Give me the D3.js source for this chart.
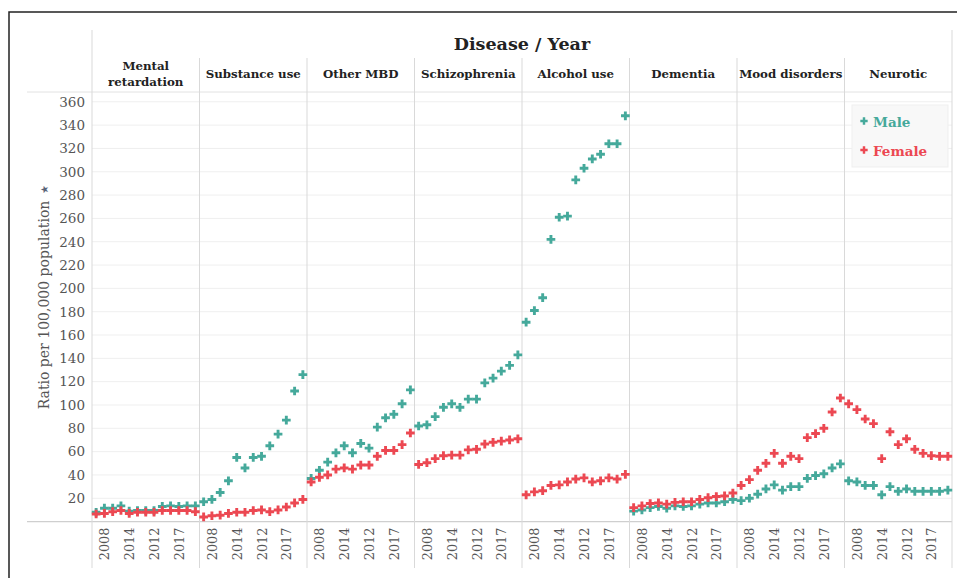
<!DOCTYPE html>
<html>
<head>
<meta charset="utf-8">
<script src="https://cdn.jsdelivr.net/npm/d3@7"></script>
<style>
  html, body { margin: 0; padding: 0; background: #fff; }
  svg { display: block; }
  text { font-family: "DejaVu Serif", "Liberation Serif", serif; }
</style>
</head>
<body>
<svg id="chart" width="957" height="578"></svg>
<script>
// ---------------- DATA ----------------
const diseases = ["Mental\nretardation", "Substance use", "Other MBD", "Schizophrenia",
                  "Alcohol use", "Dementia", "Mood disorders", "Neurotic"];
const yearSlots = [0, 1, 2, 3, 4, 5, 6, 7, 8, 9, 10, 11, 12];
const xTickSlots = [1, 4, 7, 10];
const xTickLabels = ["2008", "2014", "2012", "2017"];
const yTicks = [20, 40, 60, 80, 100, 120, 140, 160, 180, 200, 220, 240, 260, 280, 300, 320, 340, 360];
const seriesNames = ["Male", "Female"];

const maleMental        = [8, 11.5, 11.5, 13.5, 9, 9.5, 9.5, 9.5, 13, 13.5, 13, 13.5, 13.5];
const maleSubstance     = [17, 19, 25, 35, 55, 46, 55, 56, 65, 75, 87, 112, 126];
const maleOtherMBD      = [37, 44, 51, 59, 65, 59, 67, 63, 81, 89, 92, 101, 113];
const maleSchizophrenia = [82, 83, 90, 98, 101, 98, 105, 105, 119, 123, 129, 134, 143];
const maleAlcohol       = [171, 181, 192, 242, 261, 262, 293, 303, 311, 315, 324, 324, 348];
const maleDementia      = [9, 10, 12, 13, 11.5, 13.5, 13, 13.5, 15, 16, 16, 17, 19];
const maleMood          = [18, 20, 23.5, 28, 31.5, 27, 30, 30, 37, 39.5, 41, 46, 49.5];
const maleNeurotic      = [35, 34, 31, 31, 23, 30, 26, 28, 26, 26, 26, 26, 27];

const femaleMental        = [6.5, 7, 8.5, 9.5, 7, 8, 8, 8, 9.5, 9.5, 9.5, 9.5, 8.5];
const femaleSubstance     = [4, 5, 5.5, 7, 8, 8, 9.5, 10, 8.5, 10, 12.5, 16, 19];
const femaleOtherMBD      = [34, 38, 40, 45, 46, 45, 48.5, 48.5, 56, 61, 61, 66, 76];
const femaleSchizophrenia = [49, 50.5, 54, 56.5, 57, 57, 61.5, 62, 66.5, 68, 69, 70, 71];
const femaleAlcohol       = [23, 25.5, 26.5, 31, 31.5, 34, 36.5, 37.5, 34, 35, 37.5, 36.5, 40.5];
const femaleDementia      = [12, 13.5, 15.5, 16, 15, 16.5, 17, 17, 19, 20.5, 21.5, 22, 24.5];
const femaleMood          = [31, 36, 44, 50, 58.5, 50, 56, 54, 72, 75.5, 80, 94, 106];
const femaleNeurotic      = [101, 96, 88, 84, 54, 77, 66, 71, 62, 58.5, 56.5, 56, 56];

const maleSeries = [maleMental, maleSubstance, maleOtherMBD, maleSchizophrenia,
                    maleAlcohol, maleDementia, maleMood, maleNeurotic];
const femaleSeries = [femaleMental, femaleSubstance, femaleOtherMBD, femaleSchizophrenia,
                      femaleAlcohol, femaleDementia, femaleMood, femaleNeurotic];

// ---------------- LAYOUT ----------------
const colors = { Male: "#45a99b", Female: "#ec4852" };
const svg = d3.select("#chart");
const plotLeft = 92, plotRight = 952, plotTop = 92, plotBottom = 521.6;

const panelScale = d3.scaleBand().domain(d3.range(diseases.length)).range([plotLeft, plotRight]).padding(0);
const x = d3.scalePoint().domain(yearSlots).range([0, panelScale.bandwidth()]).padding(0.5);
const y = d3.scaleLinear().domain([0, 368.4]).range([plotBottom, plotTop]);

// outer frame
svg.append("rect").attr("x", 9).attr("y", 12).attr("width", 970).attr("height", 600)
  .attr("fill", "none").attr("stroke", "#222").attr("stroke-width", 1.5);

// gridlines
svg.append("g").selectAll("line").data(yTicks).join("line")
  .attr("x1", plotLeft).attr("x2", plotRight)
  .attr("y1", d => y(d)).attr("y2", d => y(d))
  .attr("stroke", "#efefef").attr("stroke-width", 1);

// header bottom line
svg.append("line").attr("x1", 27).attr("x2", plotRight).attr("y1", plotTop).attr("y2", plotTop)
  .attr("stroke", "#e2e2e2").attr("stroke-width", 1);

// baseline
svg.append("line").attr("x1", 27).attr("x2", plotRight).attr("y1", y(0)).attr("y2", y(0))
  .attr("stroke", "#cfcfcf").attr("stroke-width", 1.2);

// panel separators
const seps = d3.range(diseases.length + 1);
svg.append("g").selectAll("line").data(seps).join("line")
  .attr("x1", i => i < diseases.length ? panelScale(i) : plotRight)
  .attr("x2", i => i < diseases.length ? panelScale(i) : plotRight)
  .attr("y1", i => (i === 0 || i === diseases.length) ? 30 : 58)
  .attr("y2", 568)
  .attr("stroke", "#d9d9d9").attr("stroke-width", 1);

// title
svg.append("text").attr("x", (plotLeft + plotRight) / 2).attr("y", 50)
  .attr("text-anchor", "middle").attr("font-size", 17.5).attr("font-weight", "bold")
  .attr("fill", "#222").text("Disease / Year");

// headers
diseases.forEach((name, i) => {
  const cx = panelScale(i) + panelScale.bandwidth() / 2;
  const lines = name.split("\n");
  const t = svg.append("text").attr("text-anchor", "middle").attr("font-size", 11.8)
    .attr("font-weight", "bold").attr("fill", "#222");
  if (lines.length === 1) {
    t.append("tspan").attr("x", cx).attr("y", 78).text(lines[0]);
  } else {
    t.append("tspan").attr("x", cx).attr("y", 70).text(lines[0]);
    t.append("tspan").attr("x", cx).attr("y", 86).text(lines[1]);
  }
});

// y axis
const yAxis = d3.axisLeft(y).tickValues(yTicks).tickSize(0).tickPadding(0);
const yg = svg.append("g").attr("transform", `translate(${plotLeft - 7},0)`).call(yAxis);
yg.select(".domain").remove();
yg.selectAll("text").attr("font-size", 13.5).attr("fill", "#555")
  .attr("font-family", "DejaVu Serif, serif");

// y axis title
const yt = svg.append("text").attr("transform", "translate(49,305) rotate(-90)")
  .attr("text-anchor", "middle").attr("font-size", 14).attr("fill", "#555");
yt.append("tspan").text("Ratio per 100,000 population");
svg.append("text").attr("transform", "translate(48,189) rotate(-90)")
  .attr("text-anchor", "middle").attr("font-size", 10).attr("fill", "#5a6478").text("★");

// panels
const cross = d3.symbol().type(d3.symbolCross).size(42);
diseases.forEach((name, i) => {
  const g = svg.append("g").attr("transform", `translate(${panelScale(i)},0)`);
  const xAxis = d3.axisBottom(x).tickValues(xTickSlots)
    .tickFormat(d => xTickLabels[xTickSlots.indexOf(d)]).tickSize(0).tickPadding(0);
  const xg = g.append("g").attr("transform", `translate(0,${plotBottom})`).call(xAxis);
  xg.select(".domain").remove();
  xg.selectAll("text").attr("font-size", 12.8).attr("fill", "#555")
    .attr("font-family", "DejaVu Serif, serif")
    .attr("text-anchor", "end").attr("dy", "0.35em")
    .attr("transform", "translate(0,6) rotate(-90)").attr("x", 0).attr("y", 0);

  [[maleSeries[i], "Male"], [femaleSeries[i], "Female"]].forEach(([vals, s]) => {
    g.append("g").selectAll("path").data(vals).join("path")
      .attr("d", cross)
      .attr("transform", (v, j) => `translate(${x(yearSlots[j])},${y(v)})`)
      .attr("fill", colors[s]);
  });
});

// legend
const lg = svg.append("g");
lg.append("rect").attr("x", 852).attr("y", 105).attr("width", 96).attr("height", 62)
  .attr("fill", "#f8f8f8").attr("stroke", "#efefef");
seriesNames.forEach((s, k) => {
  const yy = 123 + k * 29;
  lg.append("path").attr("d", d3.symbol().type(d3.symbolCross).size(30)())
    .attr("transform", `translate(864,${yy - 2})`).attr("fill", colors[s]);
  lg.append("text").attr("x", 873).attr("y", yy + 4).attr("font-size", 13.5)
    .attr("font-weight", "bold").attr("fill", colors[s]).text(s);
});
</script>
</body>
</html>
